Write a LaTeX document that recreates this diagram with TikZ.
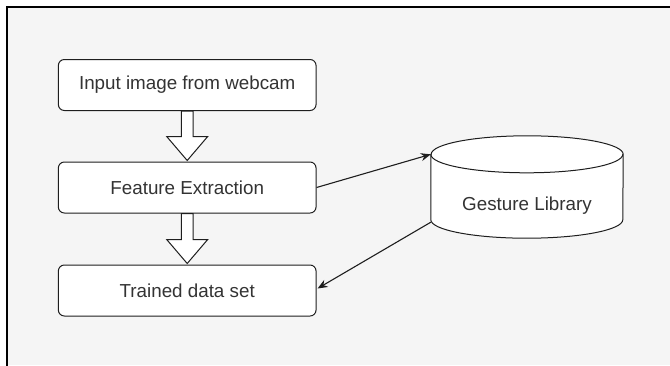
\documentclass[tikz,border=0pt]{standalone}
\usepackage{fontspec}
\setmainfont{Liberation Sans}
\usetikzlibrary{arrows.meta,calc}
\definecolor{panel}{HTML}{F5F5F5}
\definecolor{ink}{HTML}{333333}
\definecolor{edge}{HTML}{1E1E1E}
\begin{document}
\begin{tikzpicture}[x=1pt,y=-1pt,
  label/.style={font=\fontsize{18.8}{22}\selectfont, text=ink},
  stepbox/.style={label, draw=edge, fill=white, rounded corners=6pt, line width=1pt,
    minimum width=257.7pt, minimum height=51pt, inner sep=0pt},
  link/.style={draw=edge, line width=1.1pt, -{Stealth[length=10pt,width=8pt]}},
  hollow/.style={draw=edge, fill=white, line width=1pt, line join=miter}]
\useasboundingbox (0,0) rectangle (670,365);
% page and panel
\fill[white] (0,0) rectangle (670,365);
\fill[panel] (7,7) rectangle (670,365);
\draw[black, line width=2pt] (7,366) -- (7,7) -- (671,7);

% process boxes
\node[stepbox] (in) at (187.2,85) {Input image from webcam};
\node[stepbox] (fe) at (187.2,187.5) {Feature Extraction};
\node[stepbox] (ds) at (187.2,290.5) {Trained data set};

% hollow block arrows between the boxes
\foreach \a/\b in {in/fe, fe/ds} {
  \draw[hollow] ($(\a.south)+(-5.8,0)$) -- ($(\b.north)+(-5.8,-25)$)
    -- ($(\b.north)+(-20.5,-25)$) -- ($(\b.north)+(0,-1)$)
    -- ($(\b.north)+(20.5,-25)$) -- ($(\b.north)+(5.8,-25)$)
    -- ($(\a.south)+(5.8,0)$) -- cycle;
}

% gesture library cylinder
\node[minimum width=192pt, minimum height=102pt, inner sep=0pt] (lib) at (527,187) {};
\draw[draw=edge, fill=white, line width=1pt]
  ($(lib.north west)+(0,18.5)$) -- ($(lib.south west)+(0,-18.5)$)
  arc[start angle=180, end angle=0, x radius=96, y radius=18.5]
  -- ($(lib.north east)+(0,18.5)$)
  arc[start angle=0, end angle=-180, x radius=96, y radius=18.5] -- cycle;
\draw[draw=edge, line width=1pt] ($(lib.north west)+(0,18.5)$)
  arc[start angle=180, end angle=0, x radius=96, y radius=18.5];
\node[label] (libtext) at ($(lib.center)+(0,18.5)$) {Gesture Library};

% data flow to and from the library
\draw[link] (fe.east) -- ($(lib.north west)+(0,18.5)$);
\draw[link] ($(lib.south west)+(0,-16)$) -- ($(ds.east)+(1,-2)$);
\end{tikzpicture}
\end{document}
